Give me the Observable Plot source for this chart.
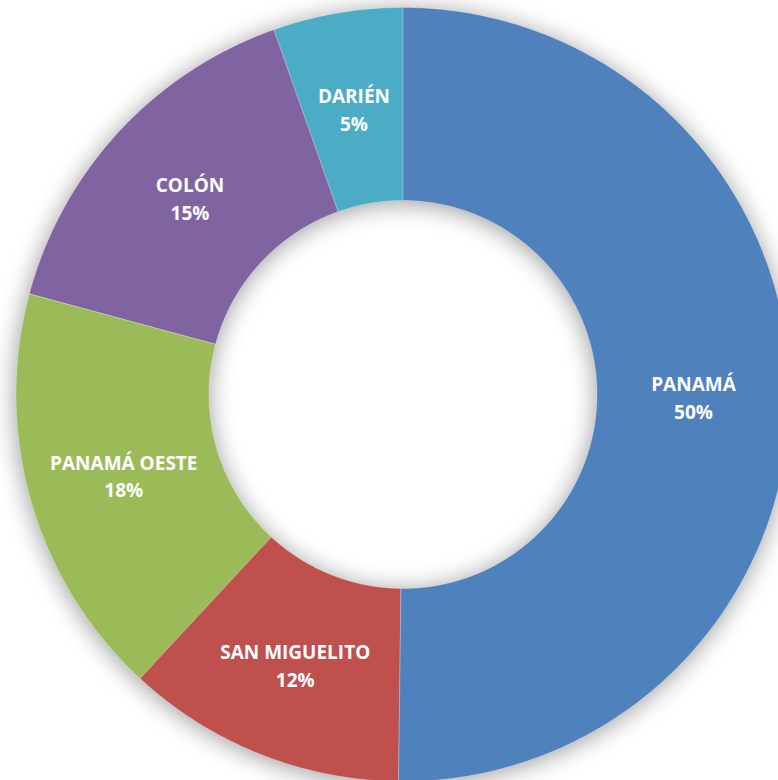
<!DOCTYPE html>
<html>
<head>
<meta charset="utf-8">
<script src="https://cdn.jsdelivr.net/npm/d3@7"></script>
<script src="https://cdn.jsdelivr.net/npm/@observablehq/plot@0.6"></script>
<style>
  html, body { margin: 0; padding: 0; background: #ffffff; }
  #chart { width: 778px; height: 780px; overflow: hidden; }
</style>
</head>
<body>
<div id="chart"></div>
<script>
// Data (clockwise from 12 o'clock)
const categories = ["PANAMÁ", "SAN MIGUELITO", "PANAMÁ OESTE", "COLÓN", "DARIÉN"];
const shares = [50.2, 11.7, 17.3, 15.4, 5.4];
const percentLabels = ["50%", "12%", "18%", "15%", "5%"];
const colors = ["#4F81BD", "#C0504D", "#9BBB59", "#8064A2", "#4BACC6"];

const W = 778, H = 780;
const R = 387, r = 194;          // outer / inner radius (px units)
const cx = 402.5, cy = 394;      // centre in the picture

const pie = d3.pie().sort(null).value(d => d)(shares);

// polygon points per slice, derived from the pie angles
const pts = [];
pie.forEach((p, i) => {
  const a0 = p.startAngle, a1 = p.endAngle;
  const n = Math.max(4, Math.ceil((a1 - a0) / (Math.PI / 360)));
  for (let k = 0; k <= n; k++) {
    const a = a0 + (a1 - a0) * k / n;
    pts.push({name: categories[i], x: R * Math.sin(a), y: R * Math.cos(a)});
  }
  for (let k = n; k >= 0; k--) {
    const a = a0 + (a1 - a0) * k / n;
    pts.push({name: categories[i], x: r * Math.sin(a), y: r * Math.cos(a)});
  }
});

const rl = (R + r) / 2;
const labels = pie.map((p, i) => {
  const a = (p.startAngle + p.endAngle) / 2;
  return {name: categories[i], text: categories[i] + "\n" + percentLabels[i],
          x: rl * Math.sin(a), y: rl * Math.cos(a)};
});

const chart = Plot.plot({
  width: W, height: H,
  margin: 0,
  x: {domain: [-cx, W - cx], range: [0, W], axis: null},
  y: {domain: [-(H - cy), cy], range: [H, 0], axis: null},
  color: {domain: categories, range: colors},
  style: {background: "#ffffff"},
  marks: [
    Plot.line(pts, {x: "x", y: "y", z: "name", curve: "linear-closed",
      fill: "#000", fillOpacity: 0.4, stroke: "none"}),
    Plot.line(pts, {x: "x", y: "y", z: "name", curve: "linear-closed",
      fill: "name", stroke: "#ffffff", strokeOpacity: 0.35, strokeWidth: 0.8}),
    Plot.text(labels, {x: "x", y: "y", text: "text", fill: "#ffffff",
      fontSize: 19, fontWeight: "bold", fontFamily: "Open Sans", lineHeight: 1.45})
  ]
});

// soft shadow under the ring
const svg = d3.select(chart);
const defs = svg.insert("defs", ":first-child");
const f = defs.append("filter").attr("id", "soft").attr("x", "-20%").attr("y", "-20%")
  .attr("width", "140%").attr("height", "140%");
f.append("feGaussianBlur").attr("stdDeviation", 12);
svg.select("g[aria-label=line]").attr("filter", "url(#soft)").attr("transform", "translate(0,3)");

document.getElementById("chart").appendChild(chart);
</script>
</body>
</html>
